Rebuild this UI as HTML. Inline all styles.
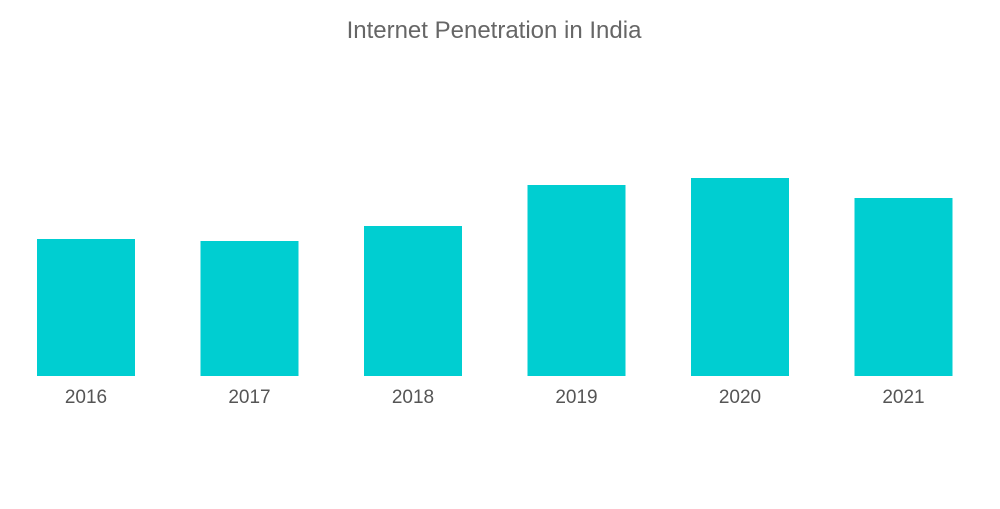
<!DOCTYPE html>
<html>
<head>
<meta charset="utf-8">
<style>
  html, body { margin: 0; padding: 0; background: #ffffff; }
  body { width: 1000px; height: 504px; overflow: hidden; font-family: "Liberation Sans", sans-serif; }
</style>
</head>
<body>
<svg id="chart" width="1000" height="504" xmlns="http://www.w3.org/2000/svg">
  <text x="494" y="38" text-anchor="middle" font-family="Liberation Sans, sans-serif" font-size="24" fill="#666666">Internet Penetration in India</text>
  <g id="bars"></g>
  <g id="xlabels"></g>
</svg>
<script>
const categories = ["2016", "2017", "2018", "2019", "2020", "2021"];
const values = [137, 135, 150, 191, 198, 178];

const baseY = 376;
const scaleMax = 200;
const plotH = 200;
const firstX = 37, step = 163.5, barW = 98;

function yScale(v) { return baseY - v / scaleMax * plotH; }
function xScale(i) { return firstX + i * step; }

const ns = "http://www.w3.org/2000/svg";
const barsG = document.getElementById("bars");
const labG = document.getElementById("xlabels");
categories.forEach((c, i) => {
  const r = document.createElementNS(ns, "rect");
  
  
  r.setAttribute("x", xScale(i));
  r.setAttribute("y", yScale(values[i]));
  r.setAttribute("width", barW);
  r.setAttribute("height", baseY - yScale(values[i]));
  r.setAttribute("fill", "#00ced1");
  barsG.appendChild(r);

  const t = document.createElementNS(ns, "text");
  
  
  t.setAttribute("x", xScale(i) + barW / 2);
  t.setAttribute("y", 403);
  t.setAttribute("text-anchor", "middle");
  t.setAttribute("font-family", "Liberation Sans, sans-serif");
  t.setAttribute("font-size", "19");
  t.setAttribute("fill", "#555555");
  t.textContent = c;
  labG.appendChild(t);
});
</script>
</body>
</html>
